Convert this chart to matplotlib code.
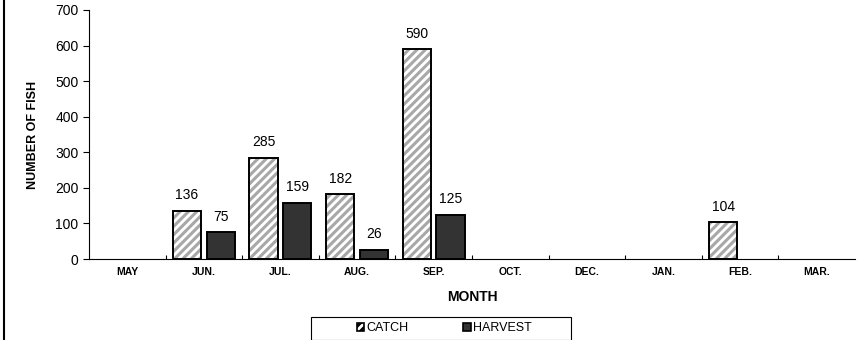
import numpy as np
import matplotlib
matplotlib.use("Agg")
import matplotlib.pyplot as plt
from matplotlib.lines import Line2D
from matplotlib.patches import Rectangle

plt.rcParams['font.family'] = ['Liberation Sans', 'DejaVu Sans']
plt.rcParams['hatch.linewidth'] = 2.2

months = ["MAY", "JUN.", "JUL.", "AUG.", "SEP.", "OCT.", "DEC.", "JAN.", "FEB.", "MAR."]
catch = [0, 136, 285, 182, 590, 0, 0, 0, 104, 0]
harvest = [0, 75, 159, 26, 125, 0, 0, 0, 0, 0]

fig = plt.figure(figsize=(8.6, 3.4), dpi=100)
ax = fig.add_axes([0.1035, 0.238, 0.8905, 0.7326])

x = np.arange(len(months))
w = 0.37
off = 0.22

for i in x:
    if catch[i] > 0:
        ax.bar(x[i] - off, catch[i], w, color="white", edgecolor="#a8a8a8",
               hatch="////", linewidth=0, zorder=2)
        ax.bar(x[i] - off, catch[i], w, fill=False, edgecolor="black",
               linewidth=1.4, zorder=3)
        ax.annotate(str(catch[i]), (x[i] - off, catch[i]), xytext=(0, 6),
                    textcoords="offset points", ha="center", va="bottom", fontsize=10)
    if harvest[i] > 0:
        ax.bar(x[i] + off, harvest[i], w, color="#333333", edgecolor="black",
               linewidth=1.4, zorder=3)
        ax.annotate(str(harvest[i]), (x[i] + off, harvest[i]), xytext=(0, 6),
                    textcoords="offset points", ha="center", va="bottom", fontsize=10)

ax.set_xlim(-0.5, len(months) - 0.5)
ax.set_ylim(0, 700)
ax.set_yticks(range(0, 701, 100))
ax.tick_params(axis="y", labelsize=10, length=4, width=0.8)
ax.set_xticks(x)
ax.set_xticklabels(months, fontsize=7.5, fontweight="bold")
ax.tick_params(axis="x", length=0, pad=6)
ax.set_xticks(np.arange(0.5, len(months) - 0.5, 1), minor=True)
ax.tick_params(axis="x", which="minor", direction="in", length=3, width=0.8)

for s in ["top", "right"]:
    ax.spines[s].set_visible(False)
ax.spines["left"].set_linewidth(0.8)
ax.spines["bottom"].set_linewidth(0.8)

ax.set_ylabel("NUMBER OF FISH", fontsize=9, fontweight="bold", labelpad=12)
ax.set_xlabel("MONTH", fontsize=10, fontweight="bold", labelpad=9)

# left border of the original chart area
fig.add_artist(Line2D([0.0045, 0.0045], [0, 1], color="black", linewidth=1.5))

# legend box
fig.add_artist(Rectangle((311 / 860, 0), 260 / 860, 23 / 340, transform=fig.transFigure,
                         fill=False, edgecolor="black", linewidth=0.8))
handles = [
    Rectangle((0, 0), 1, 1, facecolor="white", edgecolor="black", hatch="////", linewidth=1.2),
    Rectangle((0, 0), 1, 1, facecolor="#333333", edgecolor="black", linewidth=1.2),
]
fig.legend(handles, ["CATCH", "HARVEST"], ncol=2, loc="center",
           bbox_to_anchor=(444 / 860, 1 - 328 / 340), frameon=False, fontsize=9,
           handlelength=0.6, handleheight=0.6, handletextpad=0.15,
           columnspacing=4.4, borderpad=0)

fig.savefig("out.png", dpi=100)
